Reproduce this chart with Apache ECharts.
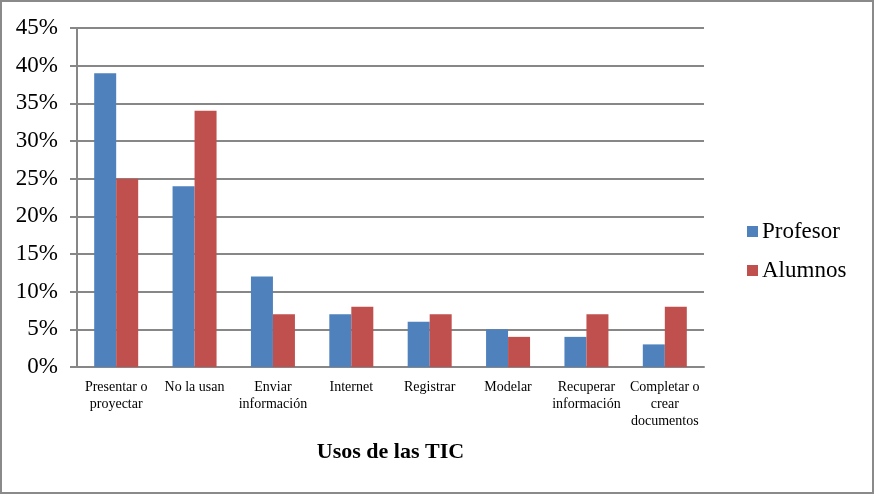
<!DOCTYPE html>
<html>
<head>
<meta charset="utf-8">
<script src="https://cdn.jsdelivr.net/npm/echarts@6/dist/echarts.min.js"></script>
<style>
  html, body { margin: 0; padding: 0; background: #fff; }
  #chart { width: 870px; height: 490px; border: 2px solid #8a8a8a; }
</style>
</head>
<body>
<div id="chart"></div>
<script>
var usos = ['Presentar o\nproyectar', 'No la usan', 'Enviar\ninformación', 'Internet',
            'Registrar', 'Modelar', 'Recuperar\ninformación', 'Completar o\ncrear\ndocumentos'];
var profesor = [39, 24, 12, 7, 6, 5, 4, 3];
var alumnos = [25, 34, 7, 8, 7, 4, 7, 8];

var font = '"Liberation Serif", "Times New Roman", serif';
var grey = '#878787';

var myChart = echarts.init(document.getElementById('chart'));
myChart.setOption({
  textStyle: { fontFamily: font },
  animation: false,
  grid: { left: 75, right: 168, top: 26, bottom: 125 },
  legend: {
    orient: 'vertical',
    left: 740,
    top: 213,
    itemWidth: 11,
    itemHeight: 11,
    itemGap: 16,
    icon: 'rect',
    textStyle: { fontFamily: font, fontSize: 23, color: '#000', padding: [0, 0, 0, -1] },
    data: ['Profesor', 'Alumnos']
  },
  xAxis: {
    type: 'category',
    data: usos,
    name: 'Usos de las TIC',
    nameLocation: 'middle',
    nameGap: 74,
    nameTextStyle: { fontFamily: font, fontSize: 22, fontWeight: 'bold', color: '#000' },
    axisLine: { lineStyle: { color: grey, width: 2 } },
    axisTick: { length: 5, lineStyle: { color: grey, width: 2 } },
    axisLabel: { fontFamily: font, fontSize: 14, color: '#000', lineHeight: 17, margin: 12, interval: 0 }
  },
  yAxis: {
    type: 'value',
    min: 0,
    max: 45,
    interval: 5,
    axisLine: { show: true, lineStyle: { color: grey, width: 2 } },
    axisTick: { show: true, length: 7, lineStyle: { color: grey, width: 2 } },
    splitLine: { lineStyle: { color: grey, width: 2 } },
    axisLabel: { fontFamily: font, fontSize: 23, color: '#000', margin: 19, formatter: '{value}%' }
  },
  series: [
    {
      name: 'Profesor',
      type: 'bar',
      data: profesor,
      barWidth: 22,
      barGap: '0%',
      itemStyle: { color: '#4F81BD' }
    },
    {
      name: 'Alumnos',
      type: 'bar',
      data: alumnos,
      barWidth: 22,
      itemStyle: { color: '#C0504D' }
    }
  ]
});
</script>
</body>
</html>
